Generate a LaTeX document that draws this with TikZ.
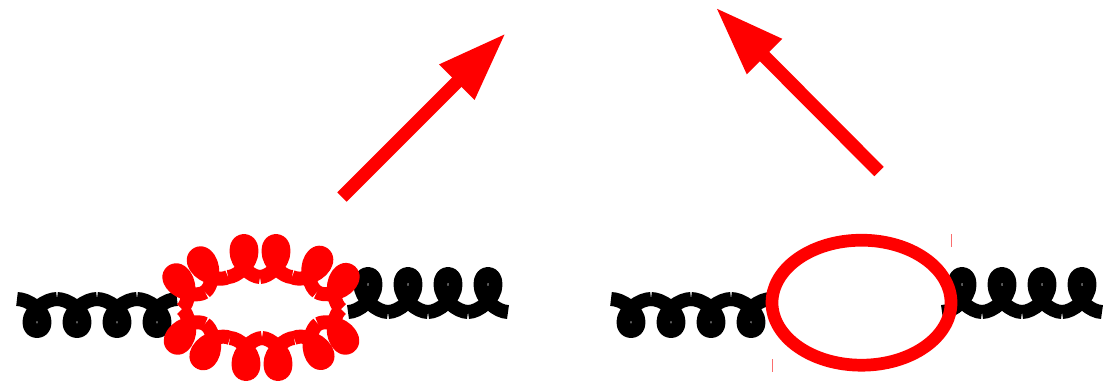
\documentclass[tikz,border=0pt]{standalone}
\usetikzlibrary{arrows.meta}
\definecolor{pure}{RGB}{255,0,0}
\definecolor{tick}{RGB}{250,110,110}
\tikzset{
  coilline/.style={line width=14pt,line cap=butt,line join=round},
  bigarrow/.style={pure,line width=13.3pt,-{Triangle[length=69.5pt,width=46pt]}},
  thintick/.style={tick,line width=0.8pt},
  ring/.style={pure,line width=12.7pt}
}
% x1 y1 x2 y2 signedheight colour blobradius
\newcommand\gluonpiece[7]{%
  \pgfmathsetmacro\len{veclen(#3-#1,#4-#2)}%
  \pgfmathsetmacro\ax{(#3-#1)/\len}%
  \pgfmathsetmacro\ay{-(#4-#2)/\len}%
  \pgfmathsetmacro\bx{-(#4-#2)/\len*(#5)}%
  \pgfmathsetmacro\by{-(#3-#1)/\len*(#5)}%
  \pgfmathsetmacro\mid{\len/2}%
  \pgfmathsetmacro\wid{7.5}%
  \pgfmathsetmacro\ca{0.27*\len}%
  \pgfmathsetmacro\cb{0.73*\len}%
  \pgfmathsetmacro\rr{\mid+\wid}%
  \pgfmathsetmacro\ll{\mid-\wid}%
  \pgfmathsetmacro\rn{\mid+0.6*\wid}%
  \pgfmathsetmacro\ln{\mid-0.6*\wid}%
  \begin{scope}[shift={(#1pt,-#2pt)},x={(\ax pt,\ay pt)},y={(\bx pt,\by pt)}]
    \draw[coilline,#6] (0,0) .. controls (\ca,0) and (\rr,0.35) .. (\rr,0.72)
      .. controls (\rr,0.9) and (\rn,1) .. (\mid,1)
      .. controls (\ln,1) and (\ll,0.9) .. (\ll,0.72)
      .. controls (\ll,0.35) and (\cb,0) .. (\len,0);
    \fill[#6] (\mid,0.72) circle [radius=#7pt];
  \end{scope}}
\begin{document}
\begin{tikzpicture}[x=1pt,y=-1pt]
\useasboundingbox (0,0) rectangle (1107,384);
% black, left diagram
\gluonpiece{17}{299}{57}{299}{32}{black}{0}
\gluonpiece{57}{299}{97}{299}{32}{black}{0}
\gluonpiece{97}{299}{137}{299}{32}{black}{0}
\gluonpiece{137}{299}{177}{299}{32}{black}{0}
\gluonpiece{348}{312}{388}{312}{-38}{black}{0}
\gluonpiece{388}{312}{428}{312}{-38}{black}{0}
\gluonpiece{428}{312}{468}{312}{-38}{black}{0}
\gluonpiece{468}{312}{508}{312}{-38}{black}{0}
% black, right diagram
\gluonpiece{611}{299}{651}{299}{32}{black}{0}
\gluonpiece{651}{299}{691}{299}{32}{black}{0}
\gluonpiece{691}{299}{731}{299}{32}{black}{0}
\gluonpiece{731}{299}{771}{299}{32}{black}{0}
\gluonpiece{942}{312}{982}{312}{-38}{black}{0}
\gluonpiece{982}{312}{1022}{312}{-38}{black}{0}
\gluonpiece{1022}{312}{1062}{312}{-38}{black}{0}
\gluonpiece{1062}{312}{1102}{312}{-38}{black}{0}
% red loop, top
\gluonpiece{182}{309}{205}{292}{-36}{pure}{9}
\gluonpiece{205}{292}{228}{277}{-36}{pure}{9}
\gluonpiece{228}{277}{260}{277}{-36}{pure}{9}
\gluonpiece{260}{277}{292}{277}{-36}{pure}{9}
\gluonpiece{292}{277}{317}{292}{-36}{pure}{9}
\gluonpiece{317}{292}{341}{309}{-36}{pure}{9}
% red loop, bottom
\gluonpiece{182}{309}{205}{324}{36}{pure}{9}
\gluonpiece{205}{324}{230}{338}{36}{pure}{9}
\gluonpiece{230}{338}{262}{338}{36}{pure}{9}
\gluonpiece{262}{338}{294}{338}{36}{pure}{9}
\gluonpiece{294}{338}{318}{324}{36}{pure}{9}
\gluonpiece{318}{324}{341}{309}{36}{pure}{9}
% ellipse loop
\node[coordinate] (c) at (861.5,302.7) {};
\draw[ring] (c) ellipse [x radius=89.5pt,y radius=62.5pt];
\draw[thintick] (951,234) -- (951,247);
\draw[thintick] (772.3,359) -- (772.3,372);
% arrows
\coordinate (a1) at (342,197);
\coordinate (b1) at (506,33);
\coordinate (a2) at (879,171.5);
\coordinate (b2) at (715.5,7.3);
\draw[bigarrow] (a1) -- (b1);
\draw[bigarrow] (a2) -- (b2);
\end{tikzpicture}
\end{document}
